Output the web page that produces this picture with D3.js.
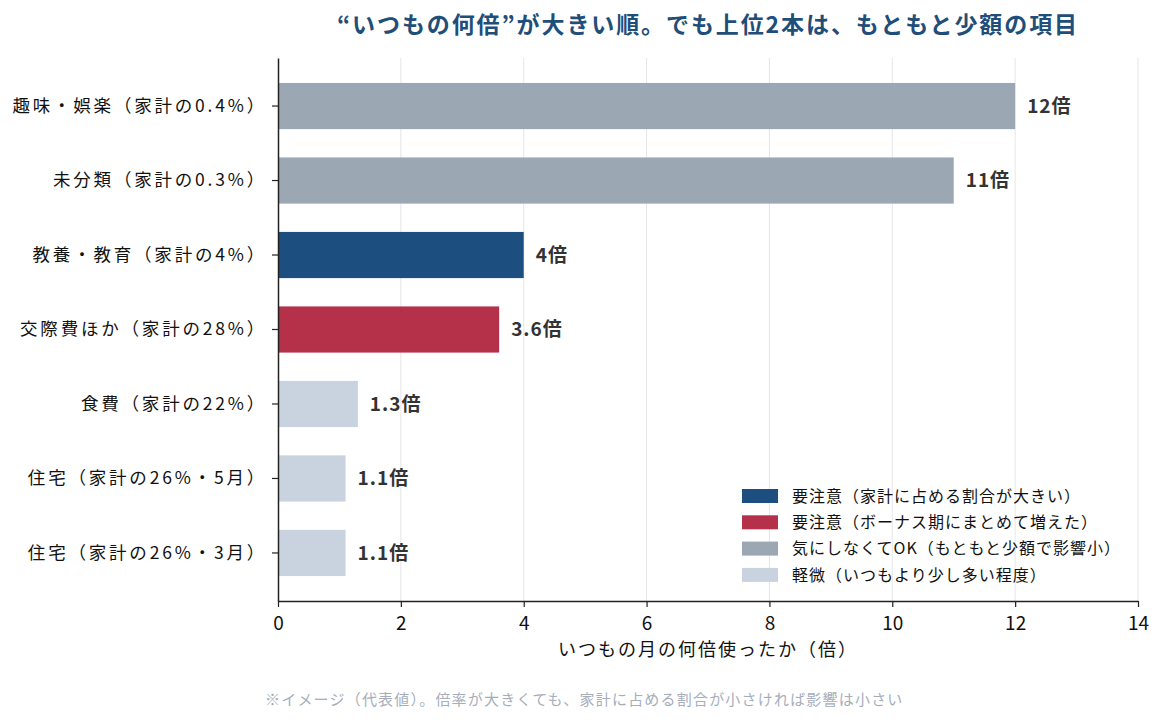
<!DOCTYPE html>
<html><head><meta charset="utf-8">
<script src="https://cdn.jsdelivr.net/npm/d3@7"></script>
<style>body{margin:0;background:#fff}svg{display:block}text{font-family:"Noto Sans CJK JP","Noto Sans",sans-serif}</style>
</head><body><svg id="c" width="1166" height="723"></svg>
<script>
const categories = ["趣味・娯楽（家計の0.4%）","未分類（家計の0.3%）","教養・教育（家計の4%）","交際費ほか（家計の28%）","食費（家計の22%）","住宅（家計の26%・5月）","住宅（家計の26%・3月）"];
const values = [12, 11, 4, 3.6, 1.3, 1.1, 1.1];
const valueLabels = ["12倍","11倍","4倍","3.6倍","1.3倍","1.1倍","1.1倍"];
const groups = ["ok","ok","big","bonus","minor","minor","minor"];
const legendKeys = ["big","bonus","ok","minor"];
const legendLabels = ["要注意（家計に占める割合が大きい）","要注意（ボーナス期にまとめて増えた）","気にしなくてOK（もともと少額で影響小）","軽微（いつもより少し多い程度）"];
const xTicks = [0,2,4,6,8,10,12,14];
const colors = {big:"#1d4e80", bonus:"#b5314a", ok:"#9ba8b4", minor:"#c9d3df"};

const svg = d3.select("#c");
const L = 278, R = 1138, T = 58, B = 601;
const x = d3.scaleLinear().domain([0,14]).range([L,R]);
const y = d3.scaleBand().domain(categories).range([T,B]).paddingInner(0.38).paddingOuter(0.335);

// grid
svg.append("g").selectAll("line").data(xTicks.slice(1)).join("line")
  .attr("x1",d=>x(d)).attr("x2",d=>x(d)).attr("y1",T).attr("y2",B)
  .attr("stroke","#e6e6e6").attr("stroke-width",1);

// bars
svg.append("g").selectAll("rect").data(values).join("rect")
  .attr("x",x(0)).attr("y",(d,i)=>y(categories[i]))
  .attr("width",d=>x(d)-x(0)).attr("height",y.bandwidth())
  .attr("fill",(d,i)=>colors[groups[i]]);

// value labels
svg.append("g").selectAll("text").data(values).join("text")
  .attr("x",d=>x(d)+12).attr("y",(d,i)=>y(categories[i])+y.bandwidth()/2)
  .attr("dy","0.35em").attr("font-size",19).attr("font-weight","bold").attr("fill","#333")
  .attr("letter-spacing",1)
  .text((d,i)=>valueLabels[i]);

// axes
const xa = svg.append("g").attr("transform",`translate(0,${B})`)
  .call(d3.axisBottom(x).tickValues(xTicks).tickSize(6).tickSizeOuter(0).tickPadding(5));
xa.select(".domain").attr("stroke","#222").attr("stroke-width",1.5);
xa.selectAll(".tick line").attr("stroke","#222").attr("stroke-width",1.2);
xa.selectAll(".tick text").attr("font-size",19).attr("fill","#111").attr("dy","0.95em");

const ya = svg.append("g").attr("transform",`translate(${L},0)`)
  .call(d3.axisLeft(y).tickSize(6).tickSizeOuter(0).tickPadding(5));
ya.select(".domain").attr("stroke","#222").attr("stroke-width",1.5);
ya.selectAll(".tick line").attr("stroke","#222").attr("stroke-width",1.2);
ya.selectAll(".tick text").attr("font-size",17.5).attr("fill","#111").attr("letter-spacing",2.8);

// titles
svg.append("text").attr("x",(L+R)/2).attr("y",33).attr("text-anchor","middle")
  .attr("font-size",23).attr("font-weight","bold").attr("fill","#1f4e79").attr("letter-spacing",1.9)
  .text("“いつもの何倍”が大きい順。でも上位2本は、もともと少額の項目");
svg.append("text").attr("x",(L+R)/2).attr("y",656).attr("text-anchor","middle")
  .attr("font-size",18).attr("fill","#111").attr("letter-spacing",2)
  .text("いつもの月の何倍使ったか（倍）");
svg.append("text").attr("x",265).attr("y",705)
  .attr("font-size",15).attr("fill","#a6aebb").attr("letter-spacing",1.2)
  .text("※イメージ（代表値）。倍率が大きくても、家計に占める割合が小さければ影響は小さい");

// legend
const lg = svg.append("g");
legendKeys.forEach((k,i)=>{
  const yy = 496 + i*26.3;
  lg.append("rect").attr("x",742).attr("y",yy-7).attr("width",36).attr("height",14).attr("fill",colors[k]);
  lg.append("text").attr("x",792).attr("y",yy).attr("dy","0.35em").attr("font-size",16).attr("fill","#111")
    .attr("letter-spacing",1).text(legendLabels[i]);
});
</script></body></html>
